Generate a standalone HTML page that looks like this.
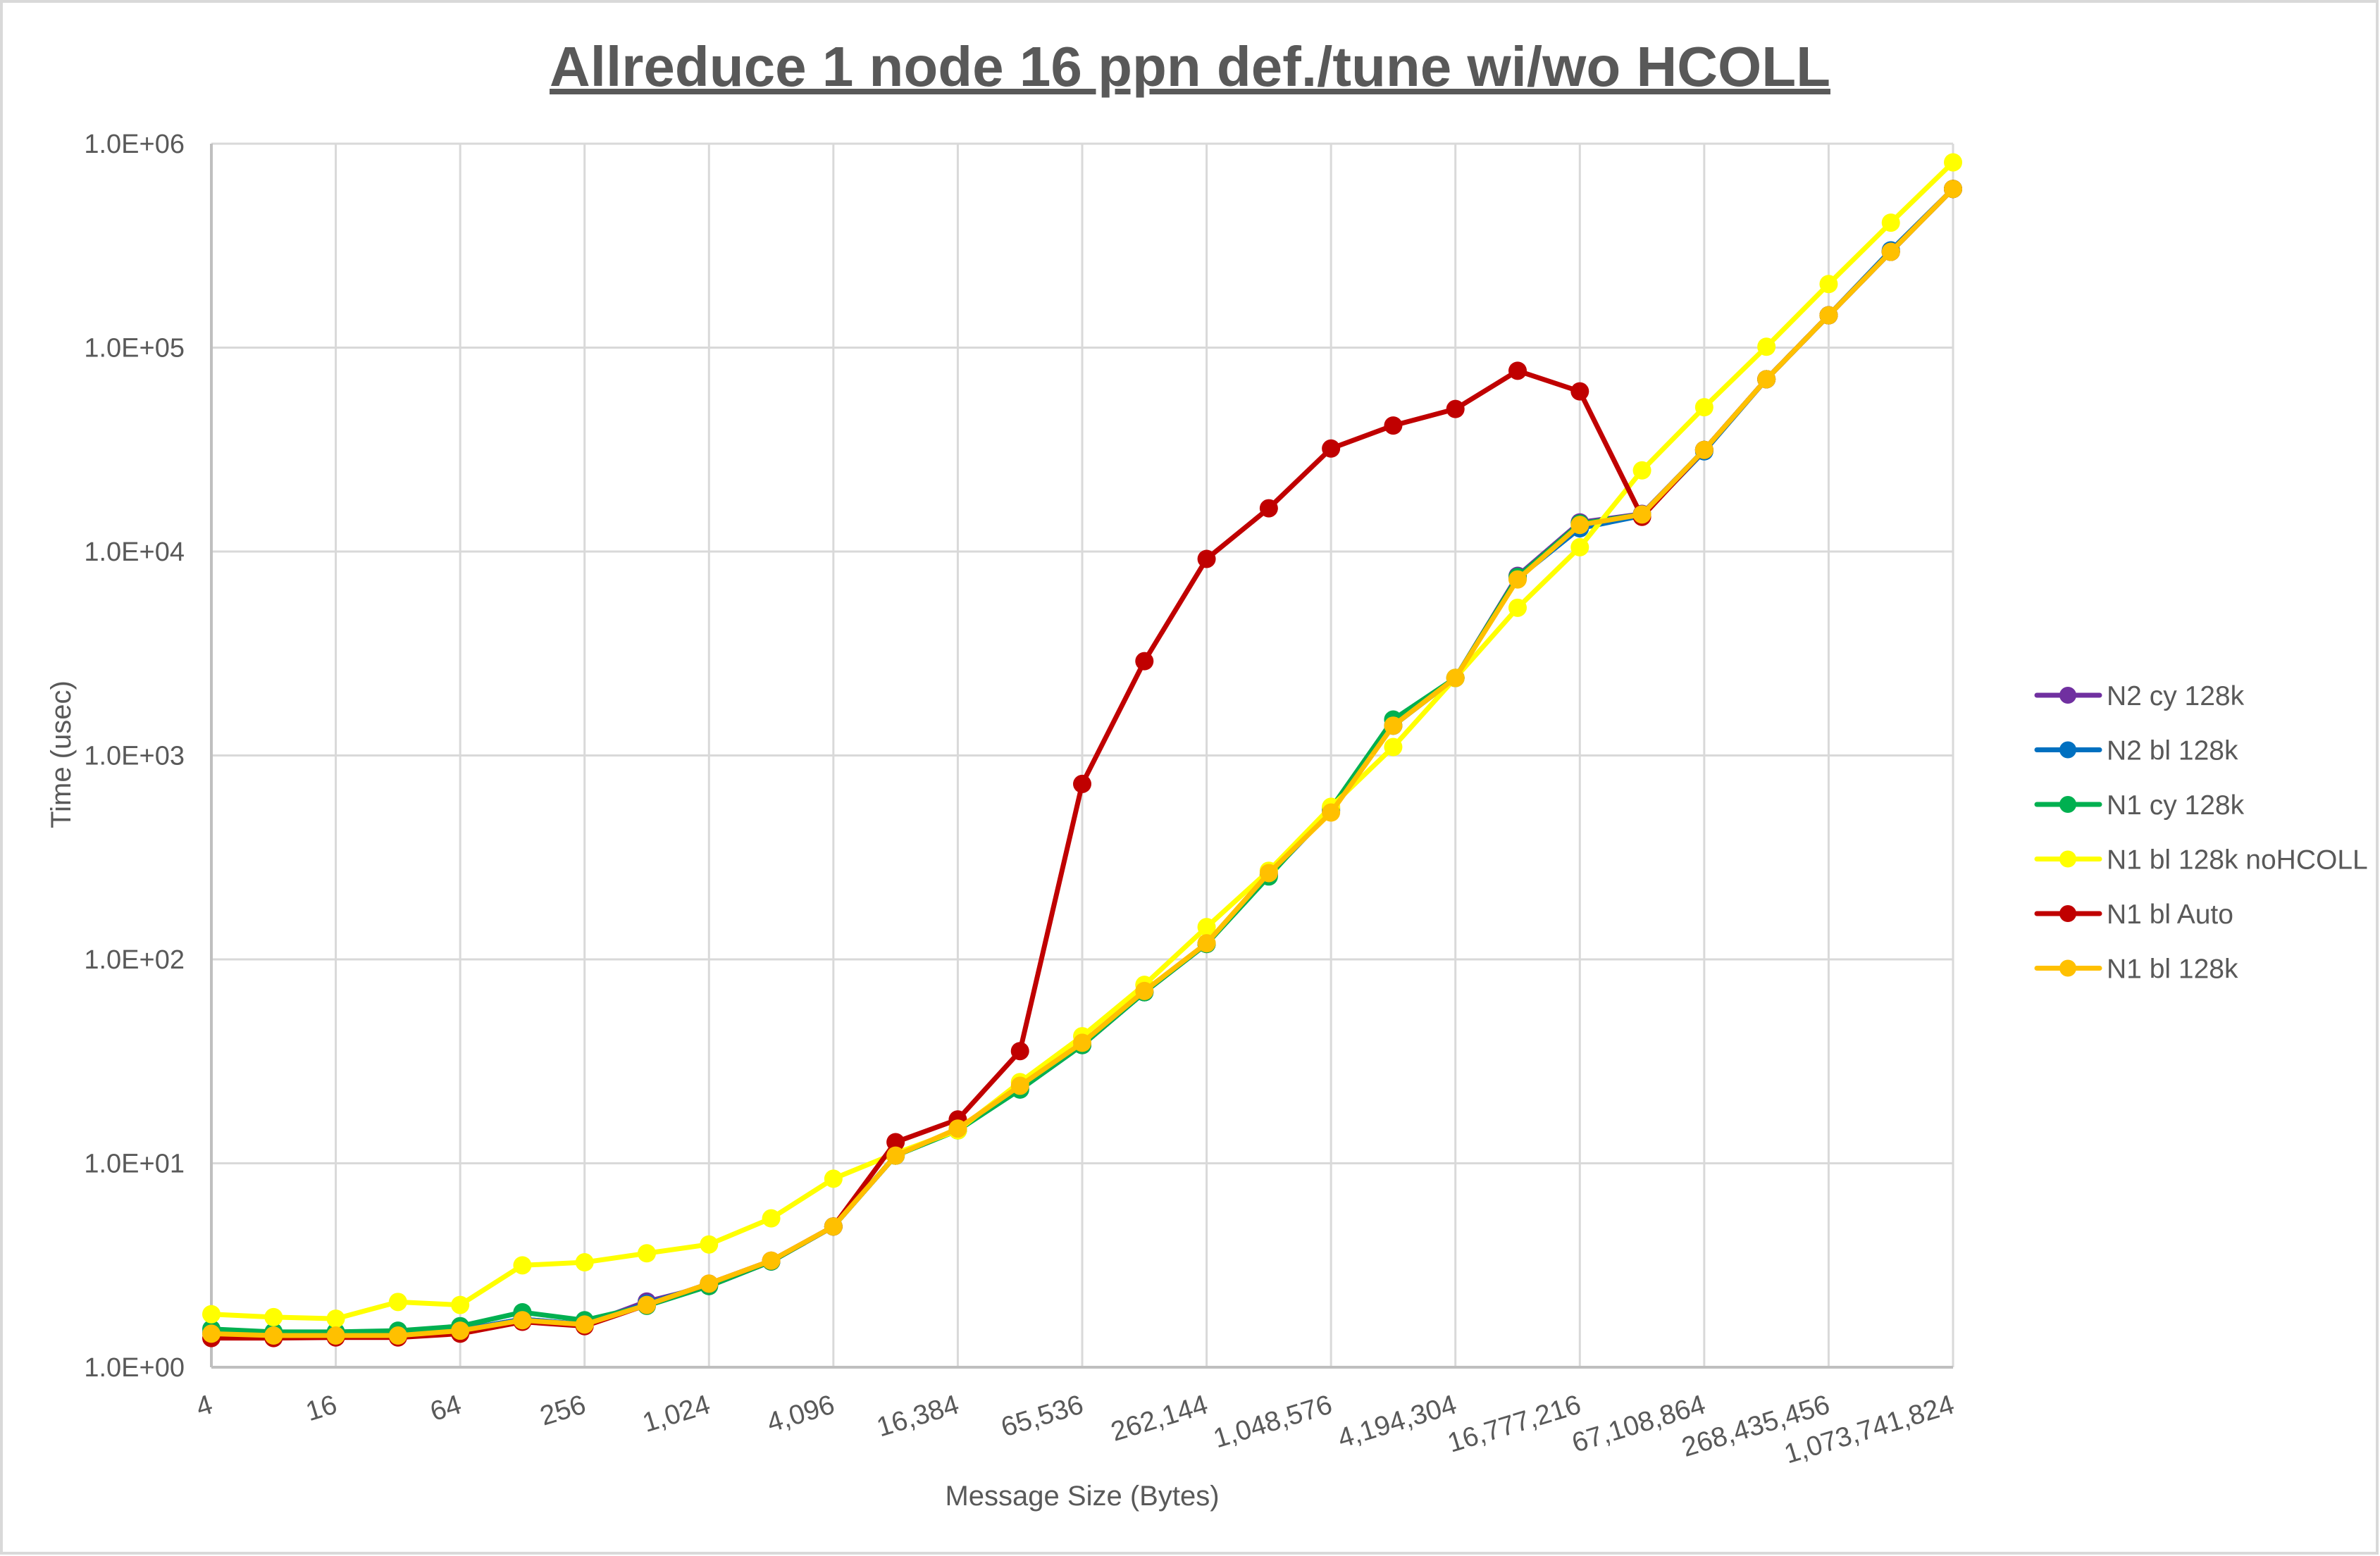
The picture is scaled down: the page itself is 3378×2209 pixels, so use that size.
<!DOCTYPE html>
<html><head><meta charset="utf-8"><style>
html,body{margin:0;padding:0;background:#fff}
svg{display:block}
text{font-family:"Liberation Sans",sans-serif;fill:#595959}
</style></head><body>
<svg id="chart" width="3378" height="2209" viewBox="0 0 3378 2209" xmlns="http://www.w3.org/2000/svg">
<rect x="2" y="2" width="3372" height="2203" fill="#fff" stroke="#d9d9d9" stroke-width="4"/>
<text x="1689" y="122" text-anchor="middle" font-size="80" font-weight="bold" text-decoration="underline" style="fill:#595959">Allreduce 1 node 16 ppn def./tune wi/wo HCOLL</text>
<g id="grid"></g><g id="axes"></g><g id="series"></g><g id="legend"></g>
<text transform="translate(100,1071) rotate(-90)" text-anchor="middle" font-size="40">Time (usec)</text>
<text x="1536" y="2137" text-anchor="middle" font-size="40">Message Size (Bytes)</text>
</svg>
<script>
const categories = ["4","8","16","32","64","128","256","512","1,024","2,048","4,096","8,192","16,384","32,768","65,536","131,072","262,144","524,288","1,048,576","2,097,152","4,194,304","8,388,608","16,777,216","33,554,432","67,108,864","134,217,728","268,435,456","536,870,912","1,073,741,824"];
const yTickLabels = ["1.0E+00","1.0E+01","1.0E+02","1.0E+03","1.0E+04","1.0E+05","1.0E+06"];
const seriesNames = ["N2 cy 128k","N2 bl 128k","N1 cy 128k","N1 bl 128k noHCOLL","N1 bl Auto","N1 bl 128k"];
const seriesColors = ["#7030a0","#0070c0","#00b050","#ffff00","#c00000","#ffc000"];
const n2cy = [1.47,1.44,1.44,1.45,1.52,1.72,1.62,2.1,2.5,3.3,4.9,10.9,14.6,23.5,38,69,119,260,540,1400,2400,7600,13900,15300,31500,70000,144000,295000,600000];
const n2bl = [1.47,1.44,1.44,1.45,1.52,1.72,1.62,2.05,2.55,3.3,4.9,10.9,14.6,23,38,69,119,258,535,1400,2400,7400,13000,15000,31000,70000,144000,300000,600000];
const n1cy = [1.54,1.49,1.49,1.51,1.59,1.86,1.70,2.0,2.5,3.3,4.9,10.9,14.5,23,38,69,119,255,550,1500,2400,7500,13700,15200,31500,70000,144000,295000,600000];
const n1nohcoll = [1.82,1.76,1.73,2.09,2.02,3.16,3.27,3.62,4.0,5.37,8.4,11.2,14.5,25,42,75,144,272,560,1100,2400,5300,10500,25000,51000,101000,205000,410000,810000];
const n1auto = [1.39,1.39,1.40,1.40,1.46,1.67,1.59,2.02,2.57,3.33,4.9,12.7,16.4,35.5,725,2900,9200,16300,32000,41500,50000,77000,61000,14800,31500,70000,144000,295000,600000];
const n1bl = [1.46,1.43,1.43,1.43,1.51,1.70,1.62,2.02,2.57,3.33,4.9,10.9,14.8,24,39,70,120,265,525,1400,2400,7300,13500,15200,31500,70000,144000,295000,600000];
const seriesData = [n2cy,n2bl,n1cy,n1nohcoll,n1auto,n1bl];

const NS="http://www.w3.org/2000/svg";
const X0=300,X1=2772,Y0=1941,Y1=204;
function xs(i){return X0+(X1-X0)*i/(categories.length-1);}
function ys(v){return Y0-(Y0-Y1)*Math.log10(v)/6;}
function mk(tag,attrs,parent){const e=document.createElementNS(NS,tag);for(const k in attrs)e.setAttribute(k,attrs[k]);parent.appendChild(e);return e;}
const grid=document.getElementById('grid'),axes=document.getElementById('axes'),ser=document.getElementById('series'),leg=document.getElementById('legend');
yTickLabels.forEach((t,k)=>{
  const y=ys(Math.pow(10,k));
  if(k>0){const l=mk('line',{x1:X0,x2:X1,y1:y,y2:y,stroke:'#d9d9d9','stroke-width':3},grid);
  
  }
  const tx=mk('text',{x:262,y:y+13,'text-anchor':'end','font-size':38},axes);tx.textContent=t;
  
  
});
categories.forEach((c,i)=>{
  if(i%2!==0)return;
  const x=xs(i);
  if(i>0){const l=mk('line',{x1:x,x2:x,y1:Y1,y2:Y0,stroke:'#d9d9d9','stroke-width':3},grid);
  
  }
  const tx=mk('text',{transform:`translate(${x+4},${Y0+64}) rotate(-17)`,'text-anchor':'end','font-size':39},axes);tx.textContent=c;
  
  
});
const ya=mk('line',{x1:X0,x2:X0,y1:Y1,y2:Y0,stroke:'#bfbfbf','stroke-width':4},axes);


const xa=mk('line',{x1:X0,x2:X1,y1:Y0,y2:Y0,stroke:'#bfbfbf','stroke-width':4},axes);


seriesData.forEach((d,s)=>{
  const g=mk('g',{},ser);
  
  
  const pts=d.map((v,i)=>xs(i)+','+ys(v)).join(' ');
  const pl=mk('polyline',{points:pts,fill:'none',stroke:seriesColors[s],'stroke-width':7,'stroke-linejoin':'round'},g);
  
  
  d.forEach((v,i)=>{const c=mk('circle',{cx:xs(i),cy:ys(v),r:13,fill:seriesColors[s]},g);
    
    });
  const ly=987+77.5*s;
  const lg=mk('g',{},leg);
  
  
  mk('line',{x1:2891,x2:2980,y1:ly,y2:ly,stroke:seriesColors[s],'stroke-width':7,'stroke-linecap':'round'},lg);
  mk('circle',{cx:2935,cy:ly,r:12,fill:seriesColors[s]},lg);
  const t=mk('text',{x:2990,y:ly+14,'font-size':39},lg);t.textContent=seriesNames[s];
});
</script>
</body></html>
